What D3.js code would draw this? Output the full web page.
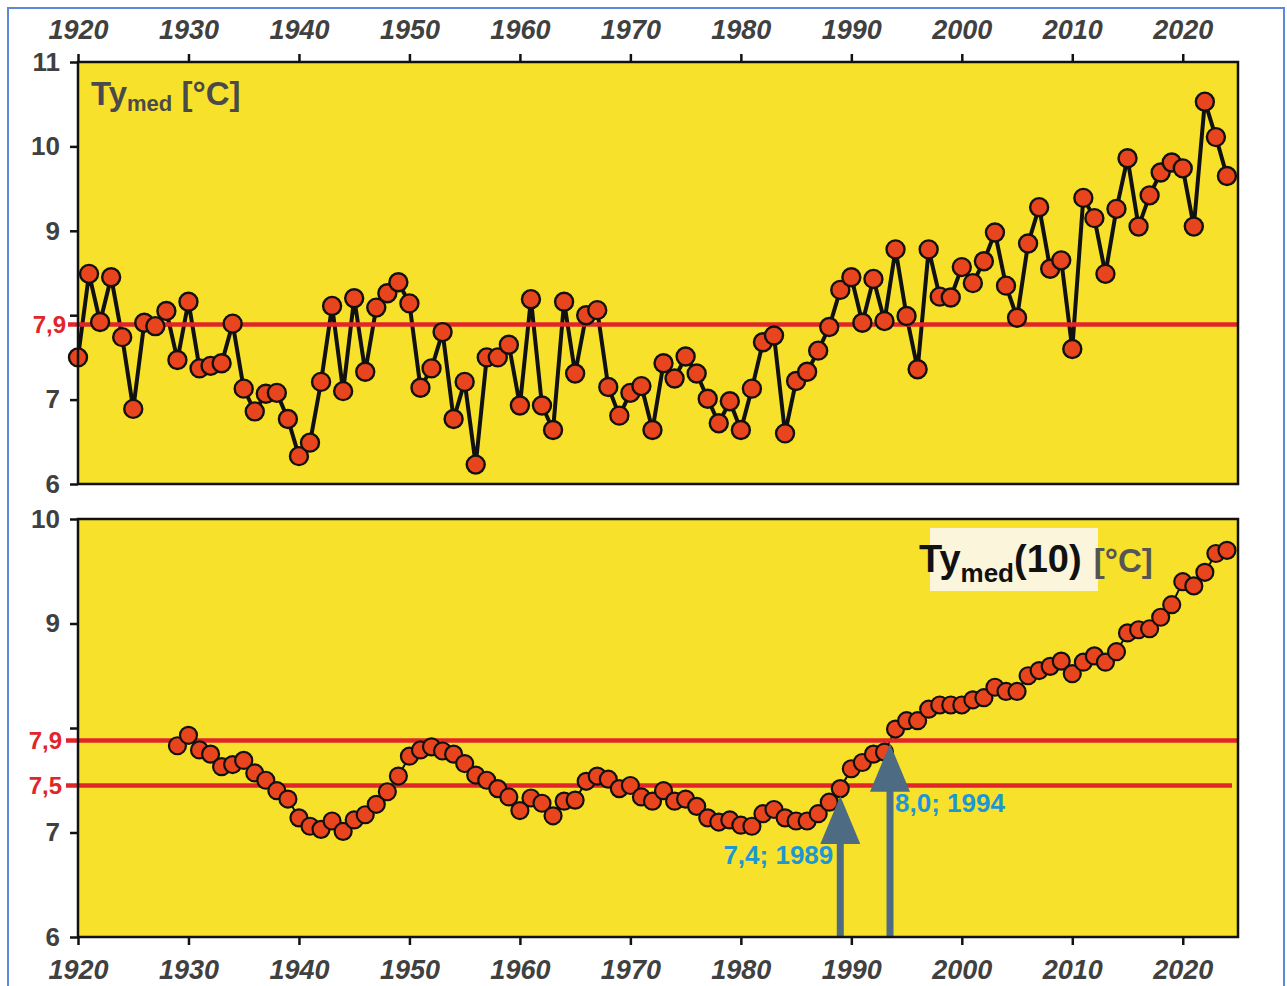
<!DOCTYPE html>
<html><head><meta charset="utf-8">
<script src="https://cdn.jsdelivr.net/npm/d3@7"></script>
<style>
body{margin:0;background:#fff;}
svg{display:block;font-family:"Liberation Sans",Arial,sans-serif;}
</style>
</head><body>
<svg id="c" width="1287" height="986"></svg>
<script>
// ---------- DATA ----------
const yearsAnnual = d3.range(1920, 2025);
const tyMed = [
 7.50, 8.49, 7.92, 8.45, 7.74, 6.89, 7.91, 7.87, 8.05, 7.47,
 8.16, 7.37, 7.40, 7.43, 7.90, 7.13, 6.86, 7.07, 7.08, 6.77,
 6.33, 6.49, 7.21, 8.11, 7.10, 8.20, 7.33, 8.09, 8.26, 8.39,
 8.14, 7.14, 7.37, 7.80, 6.77, 7.21, 6.23, 7.50, 7.50, 7.65,
 6.93, 8.19, 6.93, 6.64, 8.16, 7.31, 8.00, 8.06, 7.15, 6.81,
 7.08, 7.16, 6.64, 7.43, 7.25, 7.51, 7.31, 7.01, 6.72, 6.98,
 6.64, 7.13, 7.68, 7.76, 6.60, 7.22, 7.33, 7.58, 7.86, 8.30,
 8.45, 7.91, 8.43, 7.93, 8.78, 7.99, 7.36, 8.78, 8.22, 8.21,
 8.57, 8.38, 8.64, 8.98, 8.35, 7.97, 8.85, 9.28, 8.55, 8.65,
 7.60, 9.39, 9.15, 8.49, 9.26, 9.86, 9.05, 9.42, 9.69, 9.81,
 9.74, 9.05, 10.53, 10.11, 9.65
];
const yearsAvg = d3.range(1929, 2025);
const tyMed10 = [
 7.83,
 7.93, 7.79, 7.75, 7.63, 7.65, 7.69, 7.57, 7.50, 7.40, 7.32,
 7.14, 7.06, 7.03, 7.11, 7.01, 7.12, 7.17, 7.27, 7.39, 7.54,
 7.73, 7.79, 7.82, 7.78, 7.75, 7.66, 7.55, 7.50, 7.42, 7.34,
 7.21, 7.33, 7.28, 7.16, 7.30, 7.31, 7.49, 7.54, 7.51, 7.42,
 7.45, 7.34, 7.30, 7.40, 7.30, 7.32, 7.25, 7.14, 7.10, 7.12,
 7.07, 7.06, 7.18, 7.22, 7.14, 7.11, 7.11, 7.18, 7.29, 7.42,
 7.61, 7.67, 7.75, 7.77, 7.99, 8.07, 8.07, 8.18, 8.22, 8.22,
 8.22, 8.27, 8.29, 8.39, 8.35, 8.35, 8.50, 8.55, 8.59, 8.64,
 8.52, 8.63, 8.69, 8.63, 8.73, 8.91, 8.94, 8.95, 9.06, 9.18,
 9.40, 9.36, 9.49, 9.67, 9.70
];
const xTickYears = [1920,1930,1940,1950,1960,1970,1980,1990,2000,2010,2020];
const topYTicks = [6,7,8,9,10,11];
const topYTickLabels = ["6","7","","9","10","11"];
const botYTicks = [6,7,8,9,10];
const botYTickLabels = ["6","7","","9","10"];
const topRefValues = [7.89];
const topRefLabels = ["7,9"];
const botRefValues = [7.88, 7.45];
const botRefLabels = ["7,9","7,5"];
const arrowYears = [1989, 1993.5];
const arrowTipValues = [7.35, 7.85];
const arrowLabels = ["7,4; 1989", "8,0; 1994"];

// ---------- STYLE ----------
const YELLOW = "#f8e12b", RED = "#e0262b", DOT = "#e8441e", GREY = "#404040";
const ARROW = "#4e6b84", ANNOT = "#1d97d3";

const svg = d3.select("#c");
svg.append("rect").attr("x",8).attr("y",8).attr("width",1276).attr("height",1000)
  .attr("fill","none").attr("stroke","#5b8bd6").attr("stroke-width",2);

const L = 78, R = 1238;
const x = d3.scaleLinear().domain([1920, 2025]).range([L, R]);
const yTop = d3.scaleLinear().domain([6, 11]).range([484, 62]);
const yBot = d3.scaleLinear().domain([6, 10]).range([937, 519]);

function styleAxis(g, italic){
  g.select(".domain").remove();
  g.selectAll(".tick line").attr("stroke","#111").attr("stroke-width",2.5);
  g.selectAll(".tick text").attr("fill",GREY).attr("font-weight","bold")
    .attr("font-size", italic ? 27 : 26).attr("font-style", italic ? "italic" : "normal")
    .attr("font-family","'Liberation Sans',Arial,sans-serif");
}

// ===== TOP PANEL =====
const gT = svg.append("g");
gT.append("rect").attr("x",L).attr("y",yTop(11)).attr("width",R-L).attr("height",yTop(6)-yTop(11))
  .attr("fill",YELLOW);

gT.append("path").datum(tyMed.map((v,i)=>[yearsAnnual[i],v]))
  .attr("fill","none").attr("stroke","#111").attr("stroke-width",4).attr("stroke-linejoin","round")
  .attr("d", d3.line().x(d=>x(d[0])).y(d=>yTop(d[1])));

topRefValues.forEach((v,i)=>{
  gT.append("line").attr("x1",68).attr("x2",R).attr("y1",yTop(v)).attr("y2",yTop(v))
    .attr("stroke",RED).attr("stroke-width",4.5);
  gT.append("text").attr("x",66).attr("y",yTop(v)).attr("dy","0.36em").attr("text-anchor","end")
    .attr("fill",RED).attr("font-weight","bold").attr("font-size",24).text(topRefLabels[i]);
});

gT.selectAll("circle").data(tyMed).join("circle")
  .attr("cx",(d,i)=>x(yearsAnnual[i])).attr("cy",d=>yTop(d)).attr("r",9)
  .attr("fill",DOT).attr("stroke","#111").attr("stroke-width",2.4);

gT.append("rect").attr("x",L).attr("y",yTop(11)).attr("width",R-L).attr("height",yTop(6)-yTop(11))
  .attr("fill","none").attr("stroke","#111").attr("stroke-width",2.5);

const axTopX = gT.append("g").attr("transform",`translate(0,${yTop(11)})`)
  .call(d3.axisTop(x).tickValues(xTickYears).tickFormat(d3.format("d")).tickSize(8).tickPadding(15));
styleAxis(axTopX, true);
const axTopY = gT.append("g").attr("transform",`translate(${L},0)`)
  .call(d3.axisLeft(yTop).tickValues(topYTicks).tickFormat((d,i)=>topYTickLabels[i]).tickSize(8).tickPadding(10));
styleAxis(axTopY, false);

const t1 = gT.append("text").attr("x",91).attr("y",105).attr("fill","#4a4a4a").attr("font-weight","bold");
t1.append("tspan").attr("font-size",33).text("Ty");
t1.append("tspan").attr("font-size",22).attr("dy",6).text("med");
t1.append("tspan").attr("font-size",33).attr("dy",-6).text(" [°C]");

// ===== BOTTOM PANEL =====
const gB = svg.append("g");
gB.append("rect").attr("x",L).attr("y",yBot(10)).attr("width",R-L).attr("height",yBot(6)-yBot(10))
  .attr("fill",YELLOW);

gB.append("path").datum(tyMed10.map((v,i)=>[yearsAvg[i],v]))
  .attr("fill","none").attr("stroke","#111").attr("stroke-width",2)
  .attr("d", d3.line().x(d=>x(d[0])).y(d=>yBot(d[1])));

botRefValues.forEach((v,i)=>{
  gB.append("line").attr("x1",66).attr("x2",i===0?R:1232).attr("y1",yBot(v)).attr("y2",yBot(v))
    .attr("stroke",RED).attr("stroke-width",4.5);
  gB.append("text").attr("x",62).attr("y",yBot(v)).attr("dy","0.36em").attr("text-anchor","end")
    .attr("fill",RED).attr("font-weight","bold").attr("font-size",24).text(botRefLabels[i]);
});

gB.selectAll("circle").data(tyMed10).join("circle")
  .attr("cx",(d,i)=>x(yearsAvg[i])).attr("cy",d=>yBot(d)).attr("r",8.5)
  .attr("fill",DOT).attr("stroke","#111").attr("stroke-width",2.2);

arrowYears.forEach((yr,i)=>{
  const ax = x(yr), tip = yBot(arrowTipValues[i]), base = tip + 48, bottom = yBot(6);
  gB.append("rect").attr("x",ax-3.5).attr("y",base-2).attr("width",7).attr("height",bottom-base+2).attr("fill",ARROW);
  gB.append("path").attr("d",`M${ax},${tip}L${ax+20},${base}L${ax-20},${base}Z`).attr("fill",ARROW);
});
gB.append("text").attr("x",x(arrowYears[0])-7).attr("y",864).attr("text-anchor","end")
  .attr("fill",ANNOT).attr("font-weight","bold").attr("font-size",26).text(arrowLabels[0]);
gB.append("text").attr("x",x(arrowYears[1])+5).attr("y",812).attr("text-anchor","start")
  .attr("fill",ANNOT).attr("font-weight","bold").attr("font-size",26).text(arrowLabels[1]);

gB.append("rect").attr("x",L).attr("y",yBot(10)).attr("width",R-L).attr("height",yBot(6)-yBot(10))
  .attr("fill","none").attr("stroke","#111").attr("stroke-width",2.5);

const axBotX = gB.append("g").attr("transform",`translate(0,${yBot(6)})`)
  .call(d3.axisBottom(x).tickValues(xTickYears).tickFormat(d3.format("d")).tickSize(8).tickPadding(15));
styleAxis(axBotX, true);
const axBotY = gB.append("g").attr("transform",`translate(${L},0)`)
  .call(d3.axisLeft(yBot).tickValues(botYTicks).tickFormat((d,i)=>botYTickLabels[i]).tickSize(8).tickPadding(10));
styleAxis(axBotY, false);

gB.append("rect").attr("x",930).attr("y",528).attr("width",168).attr("height",63).attr("fill","#fbf5dc");
const t2 = gB.append("text").attr("x",919).attr("y",572).attr("font-weight","bold");
t2.append("tspan").attr("font-size",38).attr("fill","#111").text("Ty");
t2.append("tspan").attr("font-size",26).attr("dy",10).attr("fill","#111").text("med");
t2.append("tspan").attr("font-size",38).attr("dy",-10).attr("fill","#111").text("(10)");
t2.append("tspan").attr("font-size",33).attr("fill","#555").attr("dx",3).text(" [°C]");
</script>
</body></html>
